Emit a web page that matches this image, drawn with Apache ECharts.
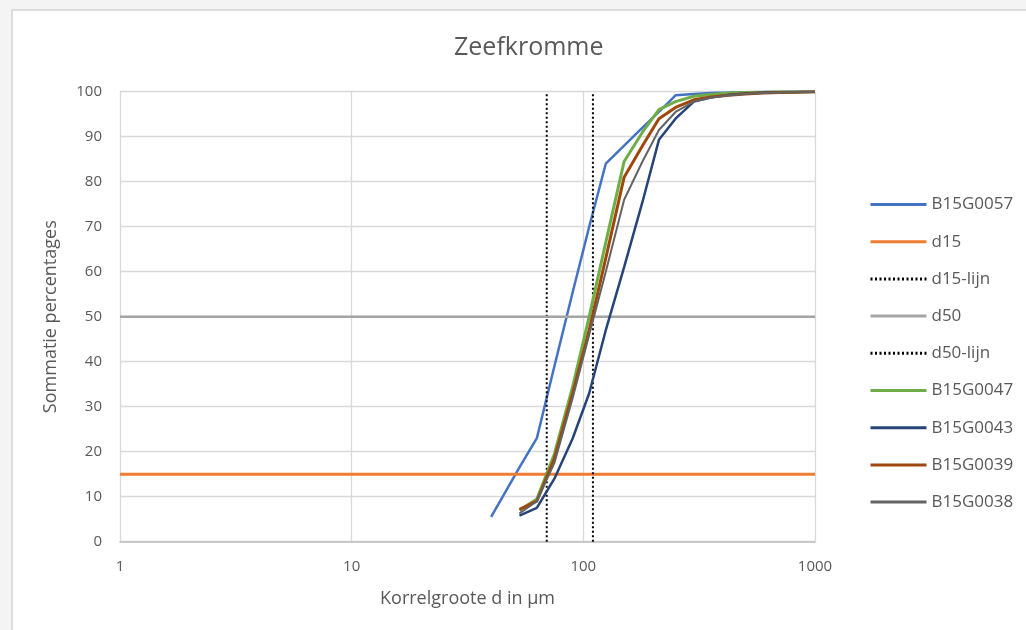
<!DOCTYPE html>
<html>
<head>
<meta charset="utf-8">
<script src="https://cdn.jsdelivr.net/npm/echarts@6/dist/echarts.min.js"></script>
<style>
html,body{margin:0;padding:0;background:#f4f4f4;}
#chart{width:1026px;height:630px;}
</style>
</head>
<body>
<div id="chart"></div>
<script>
// ---- data ----
const xTickLabels = ['1', '10', '100', '1000'];
const sieveSizes = [53, 63, 75, 90, 106, 125, 150, 180, 212, 250, 300, 355, 425, 500, 600, 710, 850, 1000];
const sizesB15G0057 = [40, 53, 63, 75, 90, 106, 125, 150, 180, 212, 250, 300, 355, 425, 500, 600, 710, 850, 1000];
const valB15G0057 = [5.5, 16.5, 23, 39, 55.5, 70, 84, 88, 92, 95.5, 99.2, 99.5, 99.7, 99.8, 99.9, 100, 100, 100, 100];
const valB15G0047 = [7, 9.5, 19.5, 34.5, 50, 66.5, 84.5, 91, 96, 97.8, 99, 99.4, 99.7, 99.8, 99.9, 100, 100, 100];
const valB15G0043 = [5.8, 7.5, 14, 23, 33, 47, 61, 75.5, 89.3, 94, 97.8, 98.7, 99.3, 99.6, 99.8, 99.9, 100, 100];
const valB15G0039 = [7.2, 9, 18.5, 33, 47, 63, 81, 88, 94, 96.5, 98.2, 98.8, 99.2, 99.5, 99.7, 99.8, 99.9, 100];
const valB15G0038 = [6.3, 9, 17.5, 32, 46, 60, 76, 84.5, 91.5, 95.5, 97.8, 98.7, 99.2, 99.5, 99.7, 99.8, 99.9, 100];
const d15Value = 15;
const d50Value = 50;
const d15Size = 69.5;
const d50Size = 110;
const xRange = [1, 1000];
const yRange = [0, 100];

const pairs = (xs, ys) => xs.map((x, i) => [x, ys[i]]);

const txt = '#595959';
const font = 'Open Sans';

const chart = echarts.init(document.getElementById('chart'), null, {renderer: 'canvas'});

function lineSeries(name, data, color, width, type) {
  return {
    name: name, type: 'line', data: data, symbol: 'none', showSymbol: false,
    lineStyle: {color: color, width: width, type: type || 'solid'},
    itemStyle: {color: color},
    emphasis: {disabled: true}, animation: false, z: 3
  };
}

chart.setOption({
  backgroundColor: 'transparent',
  animation: false,
  graphic: [{
    type: 'rect', z: -10, silent: true,
    shape: {x: 12, y: 10, width: 1040, height: 650},
    style: {fill: '#ffffff', stroke: '#d4d4d4', lineWidth: 1.5}
  }],
  title: {
    text: 'Zeefkromme', left: 449, top: 30,
    textStyle: {fontFamily: font, fontSize: 25, fontWeight: 'normal', color: txt}
  },
  legend: {
    orient: 'vertical', left: 864, top: 191, itemWidth: 56, itemHeight: 14, itemGap: 20.2,
    itemStyle: {opacity: 0, borderWidth: 0},
    lineStyle: {width: 3},
    textStyle: {fontFamily: font, fontSize: 17, color: txt},
    data: ['B15G0057', 'd15', 'd15-lijn', 'd50', 'd50-lijn', 'B15G0047', 'B15G0043', 'B15G0039', 'B15G0038']
  },
  grid: {left: 120, right: 211, top: 91.7, bottom: 88.3},
  xAxis: {
    type: 'log', logBase: 10, min: xRange[0], max: xRange[1],
    name: 'Korrelgroote d in µm', nameLocation: 'middle', nameGap: 48,
    nameTextStyle: {fontFamily: font, fontSize: 18, color: txt},
    axisLine: {lineStyle: {color: '#bfbfbf', width: 1.5}},
    axisTick: {show: false},
    axisLabel: {fontFamily: font, fontSize: 15, color: txt, margin: 18,
      formatter: v => xTickLabels.find(t => Number(t) === Math.round(v)) || ''},
    splitLine: {show: true, lineStyle: {color: '#d9d9d9', width: 1.3}},
    minorSplitLine: {show: false}
  },
  yAxis: {
    type: 'value', min: yRange[0], max: yRange[1], interval: 10,
    name: 'Sommatie percentages', nameLocation: 'middle', nameGap: 60,
    nameTextStyle: {fontFamily: font, fontSize: 18, color: txt},
    axisLine: {show: false}, axisTick: {show: false},
    axisLabel: {fontFamily: font, fontSize: 15, color: txt, margin: 18},
    splitLine: {show: true, lineStyle: {color: '#d9d9d9', width: 1.3}}
  },
  series: [
    lineSeries('B15G0057', pairs(sizesB15G0057, valB15G0057), '#4472C4', 2.5),
    lineSeries('d15', [[xRange[0], d15Value], [xRange[1], d15Value]], '#ED7D31', 3),
    lineSeries('d15-lijn', [[d15Size, yRange[0]], [d15Size, yRange[1]]], '#000000', 2, [2, 2.5]),
    lineSeries('d50', [[xRange[0], d50Value], [xRange[1], d50Value]], '#A5A5A5', 2.5),
    lineSeries('d50-lijn', [[d50Size, yRange[0]], [d50Size, yRange[1]]], '#000000', 2, [2, 2.5]),
    lineSeries('B15G0047', pairs(sieveSizes, valB15G0047), '#70AD47', 3),
    lineSeries('B15G0043', pairs(sieveSizes, valB15G0043), '#264478', 2.5),
    lineSeries('B15G0039', pairs(sieveSizes, valB15G0039), '#9E480E', 3),
    lineSeries('B15G0038', pairs(sieveSizes, valB15G0038), '#636363', 2)
  ]
});
</script>
</body>
</html>
